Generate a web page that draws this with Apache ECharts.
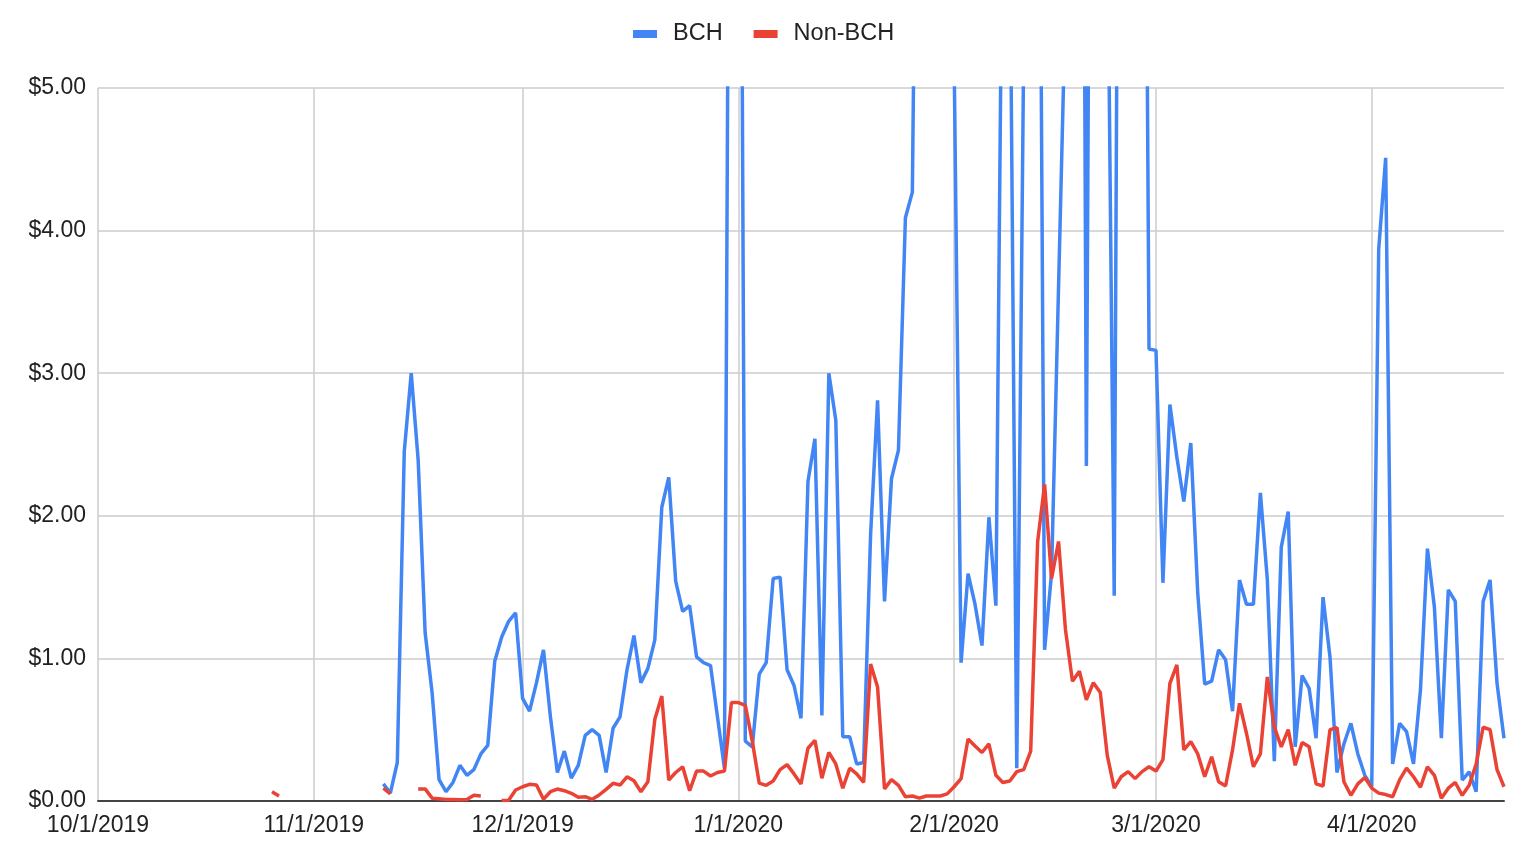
<!DOCTYPE html>
<html>
<head>
<meta charset="utf-8">
<script src="https://cdn.jsdelivr.net/npm/echarts@6/dist/echarts.min.js"></script>
<style>
html,body{margin:0;padding:0;background:#fff;}
#chart{width:1536px;height:862px;}
</style>
</head>
<body>
<div id="chart"></div>
<script>
// Axis range (daily categories) and tick labels
const axisStart = '2019-10-01';
const axisEnd = '2020-04-20';
const tickLabels = ['10/1/2019','11/1/2019','12/1/2019','1/1/2020','2/1/2020','3/1/2020','4/1/2020'];
const yTicks = [0, 1, 2, 3, 4, 5];

// BCH daily values, starting 2019-11-11
const bchStart = '2019-11-11';
const bch = [
  // Nov 11-30
  0.12,0.055,0.27,2.45,3.00,2.39,1.18,0.76,0.15,0.065,0.13,0.25,0.18,0.22,0.33,0.39,0.98,1.15,1.26,1.32,
  // Dec 1-31
  0.72,0.63,0.83,1.06,0.59,0.20,0.35,0.16,0.25,0.46,0.50,0.46,0.20,0.51,0.59,0.92,1.16,0.83,0.93,1.13,
  2.06,2.27,1.54,1.33,1.37,1.01,0.97,0.95,0.59,0.23,10.6,
  // Jan 1-31
  11.0,0.42,0.38,0.89,0.97,1.56,1.57,0.92,0.81,0.58,2.24,2.54,0.60,3.00,2.67,0.45,0.45,0.26,0.27,1.87,
  2.81,1.40,2.26,2.46,4.09,4.27,9.0,10.0,10.0,10.0,8.0,
  // Feb 1-29
  5.2,0.97,1.595,1.38,1.09,1.99,1.37,6.7,6.2,0.23,5.3,10.0,9.3,1.06,1.60,3.6,5.6,8.0,14.0,2.35,
  12.0,10.0,6.4,1.44,11.6,10.0,10.0,11.0,3.17,
  // Mar 1-31
  3.16,1.53,2.78,2.41,2.10,2.51,1.46,0.82,0.84,1.06,0.99,0.63,1.55,1.38,1.38,2.16,1.55,0.28,1.78,2.03,
  0.38,0.88,0.79,0.44,1.43,1.01,0.20,0.40,0.545,0.33,0.18,
  // Apr 1-20
  0.10,3.87,4.51,0.26,0.545,0.486,0.26,0.78,1.77,1.36,0.44,1.48,1.40,0.147,0.205,0.065,1.40,1.55,0.825,0.44
];

// Non-BCH daily values, starting 2019-10-26 (null = no data)
const nonBchStart = '2019-10-26';
const nonBch = [
  // Oct 26-31
  0.065,0.035,null,null,null,null,
  // Nov 1-30
  null,null,null,null,null,null,null,null,null,null,
  0.09,0.05,null,null,null,0.085,0.085,0.02,0.015,0.01,0.01,0.008,0.01,0.04,0.035,null,null,0.003,0.006,0.077,
  // Dec 1-31
  0.10,0.117,0.112,0.012,0.065,0.084,0.072,0.054,0.026,0.03,0.012,0.042,0.082,0.124,0.112,0.17,0.142,0.065,0.135,0.573,
  0.736,0.147,0.20,0.24,0.072,0.21,0.21,0.175,0.20,0.21,0.69,
  // Jan 1-31
  0.69,0.67,0.42,0.125,0.11,0.14,0.22,0.255,0.19,0.12,0.37,0.425,0.16,0.34,0.26,0.09,0.23,0.19,0.13,0.96,
  0.80,0.085,0.15,0.11,0.03,0.035,0.02,0.035,0.035,0.035,0.05,
  // Feb 1-29
  0.10,0.157,0.435,0.386,0.34,0.40,0.18,0.13,0.14,0.206,0.22,0.35,1.82,2.22,1.56,1.82,1.20,0.84,0.91,0.71,
  0.83,0.76,0.32,0.09,0.17,0.206,0.157,0.206,0.24,
  // Mar 1-31
  0.21,0.29,0.825,0.954,0.358,0.416,0.33,0.17,0.31,0.135,0.105,0.358,0.685,0.475,0.24,0.33,0.87,0.52,0.38,0.50,
  0.25,0.41,0.38,0.12,0.105,0.50,0.515,0.135,0.04,0.12,0.165,
  // Apr 1-20
  0.09,0.055,0.045,0.03,0.148,0.23,0.17,0.096,0.24,0.18,0.02,0.09,0.13,0.04,0.11,0.26,0.517,0.50,0.22,0.10
];

// ---- build category axis (one entry per day) ----
function parseUTC(s){ const p = s.split('-').map(Number); return Date.UTC(p[0], p[1]-1, p[2]); }
function fmt(t){ const d = new Date(t); return (d.getUTCMonth()+1) + '/' + d.getUTCDate() + '/' + d.getUTCFullYear(); }
const DAY = 86400000;
const categories = [];
for (let t = parseUTC(axisStart); t <= parseUTC(axisEnd); t += DAY) categories.push(fmt(t));
function align(startStr, vals){
  const off = Math.round((parseUTC(startStr) - parseUTC(axisStart)) / DAY);
  const out = new Array(categories.length).fill(null);
  vals.forEach((v, i) => { if (off + i < out.length) out[off + i] = v; });
  return out;
}
const bchData = align(bchStart, bch);
const nonBchData = align(nonBchStart, nonBch);
const isTick = (i, v) => tickLabels.indexOf(v) >= 0;

const FONT = '"Liberation Sans", Arial, Helvetica, sans-serif';
const chart = echarts.init(document.getElementById('chart'), null, {renderer: 'canvas'});
chart.setOption({
  animation: false,
  backgroundColor: '#ffffff',
  textStyle: { fontFamily: FONT },
  legend: {
    data: ['BCH', 'Non-BCH'],
    left: 628,
    top: 17,
    icon: 'rect',
    itemWidth: 24,
    itemHeight: 8,
    itemGap: 31,
    textStyle: { fontSize: 23.5, color: '#222222', fontFamily: FONT, padding: [0, 0, 0, 11] }
  },
  grid: { left: 98, right: 32, top: 88, bottom: 61, containLabel: false },
  xAxis: {
    type: 'category',
    data: categories,
    boundaryGap: false,
    axisLine: { show: true, lineStyle: { color: '#444444', width: 2 } },
    axisTick: { show: false },
    axisLabel: { interval: isTick, fontSize: 23, color: '#222222', margin: 13, fontFamily: FONT },
    splitLine: { show: true, interval: isTick, lineStyle: { color: '#cccccc', width: 1.5 } }
  },
  yAxis: {
    type: 'value',
    min: yTicks[0],
    max: yTicks[yTicks.length - 1],
    interval: 1,
    axisLine: { show: false },
    axisTick: { show: false },
    axisLabel: { formatter: v => '$' + v.toFixed(2), fontSize: 23, color: '#222222', margin: 12, fontFamily: FONT },
    splitLine: { show: true, lineStyle: { color: '#cccccc', width: 1.5 } }
  },
  series: [
    {
      name: 'BCH', type: 'line', data: bchData, showSymbol: false, symbol: 'none',
      connectNulls: false, clip: true,
      itemStyle: { color: '#4285F4' },
      lineStyle: { color: '#4285F4', width: 3.5 }
    },
    {
      name: 'Non-BCH', type: 'line', data: nonBchData, showSymbol: false, symbol: 'none',
      connectNulls: false, clip: true,
      itemStyle: { color: '#EA4335' },
      lineStyle: { color: '#EA4335', width: 3.5 }
    }
  ]
});
</script>
</body>
</html>
